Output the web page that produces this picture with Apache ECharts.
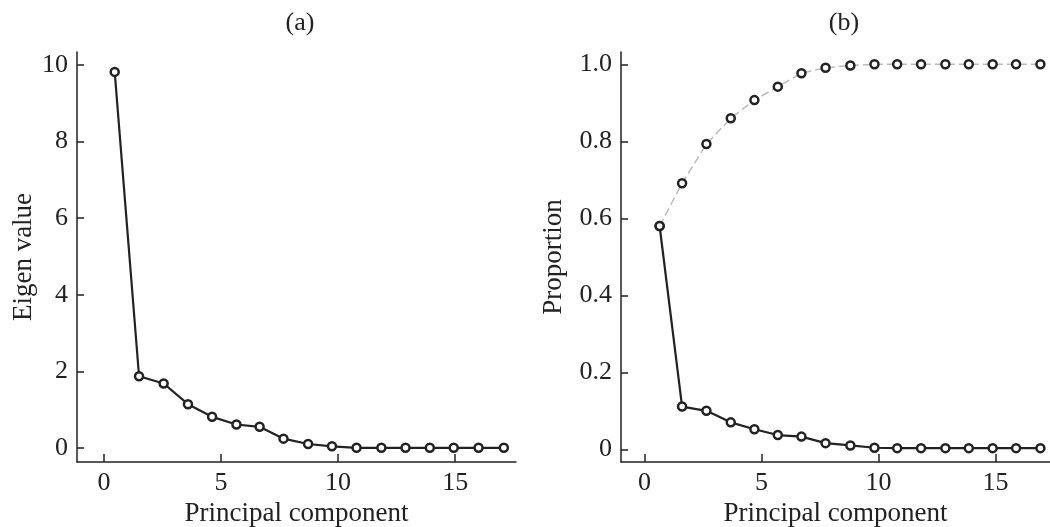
<!DOCTYPE html>
<html>
<head>
<meta charset="utf-8">
<script src="https://cdn.jsdelivr.net/npm/echarts@6/dist/echarts.min.js"></script>
<style>
html,body{margin:0;padding:0;background:#fff;}
#main{width:1050px;height:527px;}
</style>
</head>
<body>
<div id="main"></div>
<script>
// panel (a): eigen values
var eigenX=[0.46,1.50,2.55,3.59,4.62,5.66,6.65,7.67,8.72,9.74,10.79,11.85,12.88,13.92,14.94,16.0,17.08];
var eigenVal=[9.82,1.87,1.68,1.14,0.81,0.61,0.55,0.24,0.10,0.04,0,0,0,0,0,0,0];
// panel (b): proportion and cumulative proportion
var propX=[0.65,1.61,2.65,3.69,4.70,5.70,6.71,7.74,8.80,9.83,10.8,11.82,12.86,13.86,14.88,15.88,16.92];
var propVal=[0.58,0.111,0.10,0.07,0.052,0.037,0.033,0.016,0.01,0.004,0.003,0.003,0.003,0.003,0.003,0.003,0.003];
var cumVal=[0.58,0.691,0.793,0.86,0.907,0.942,0.977,0.991,0.997,1.0,1.0,1.0,1.0,1.0,1.0,1.0,1.0];
var xTicks=[0,5,10,15];
var eigenTicks=[0,2,4,6,8,10];
var propTicks=[0,0.2,0.4,0.6,0.8,1.0];

function pairs(xs,ys){
    var out=[];
    for(var i=0;i<xs.length;i++){
        out.push([xs[i],ys[i]]);
    }
    return out;
}

var font='"Liberation Serif","DejaVu Serif",serif';
var axisLine={onZero:false,lineStyle:{color:'#222',width:1.5}};

function xAxisCfg(idx,min,max){
    return {
        type:'value',gridIndex:idx,min:min,max:max,
        name:'Principal component',nameLocation:'middle',nameGap:34,
        nameTextStyle:{fontFamily:font,fontSize:27,color:'#222'},
        axisLine:axisLine,
        axisTick:{inside:true,length:8,customValues:xTicks,lineStyle:{color:'#222',width:1.5}},
        axisLabel:{customValues:xTicks,fontFamily:font,fontSize:26,color:'#222',margin:8},
        splitLine:{show:false}
    };
}

function yAxisCfg(idx,min,max,name,gap,ticks,fmt){
    return {
        type:'value',gridIndex:idx,min:min,max:max,
        name:name,nameLocation:'middle',nameGap:gap,
        nameTextStyle:{fontFamily:font,fontSize:27,color:'#222'},
        axisLine:axisLine,
        axisTick:{inside:true,length:7,customValues:ticks,lineStyle:{color:'#222',width:1.5}},
        axisLabel:{customValues:ticks,fontFamily:font,fontSize:26,color:'#222',margin:9,formatter:fmt},
        splitLine:{show:false}
    };
}

var marker={color:'#fff',borderColor:'#222',borderWidth:2.5};

var myChart=echarts.init(document.getElementById('main'));
var option={
    animation:false,
    backgroundColor:'#fff',
    title:[
        {text:'(a)',left:295,top:5,textAlign:'center',textStyle:{fontFamily:font,fontSize:26,fontWeight:'normal',color:'#222'}},
        {text:'(b)',left:839,top:5,textAlign:'center',textStyle:{fontFamily:font,fontSize:26,fontWeight:'normal',color:'#222'}}
    ],
    grid:[
        {left:77,top:52,width:439,height:410,outerBoundsMode:'none',containLabel:false},
        {left:621,top:52,width:429,height:410,outerBoundsMode:'none',containLabel:false}
    ],
    xAxis:[xAxisCfg(0,-1.15,17.6),xAxisCfg(1,-1.0,17.33)],
    yAxis:[
        yAxisCfg(0,-0.37,10.34,'Eigen value',40,eigenTicks,function(v){return String(v);}),
        yAxisCfg(1,-0.033,1.032,'Proportion',54,propTicks,function(v){return v===0?'0':v.toFixed(1);})
    ],
    series:[
        {
            type:'line',xAxisIndex:0,yAxisIndex:0,data:pairs(eigenX,eigenVal),
            symbol:'circle',symbolSize:8,showAllSymbol:true,
            lineStyle:{color:'#222',width:2.2},itemStyle:marker
        },
        {
            type:'line',xAxisIndex:1,yAxisIndex:1,data:pairs(propX,cumVal),
            symbol:'circle',symbolSize:8,showAllSymbol:true,
            lineStyle:{color:'#bbb',width:1.5,type:[8,4]},itemStyle:marker
        },
        {
            type:'line',xAxisIndex:1,yAxisIndex:1,data:pairs(propX,propVal),
            symbol:'circle',symbolSize:8,showAllSymbol:true,
            lineStyle:{color:'#222',width:2.2},itemStyle:marker
        }
    ]
};
myChart.setOption(option);
</script>
</body>
</html>
